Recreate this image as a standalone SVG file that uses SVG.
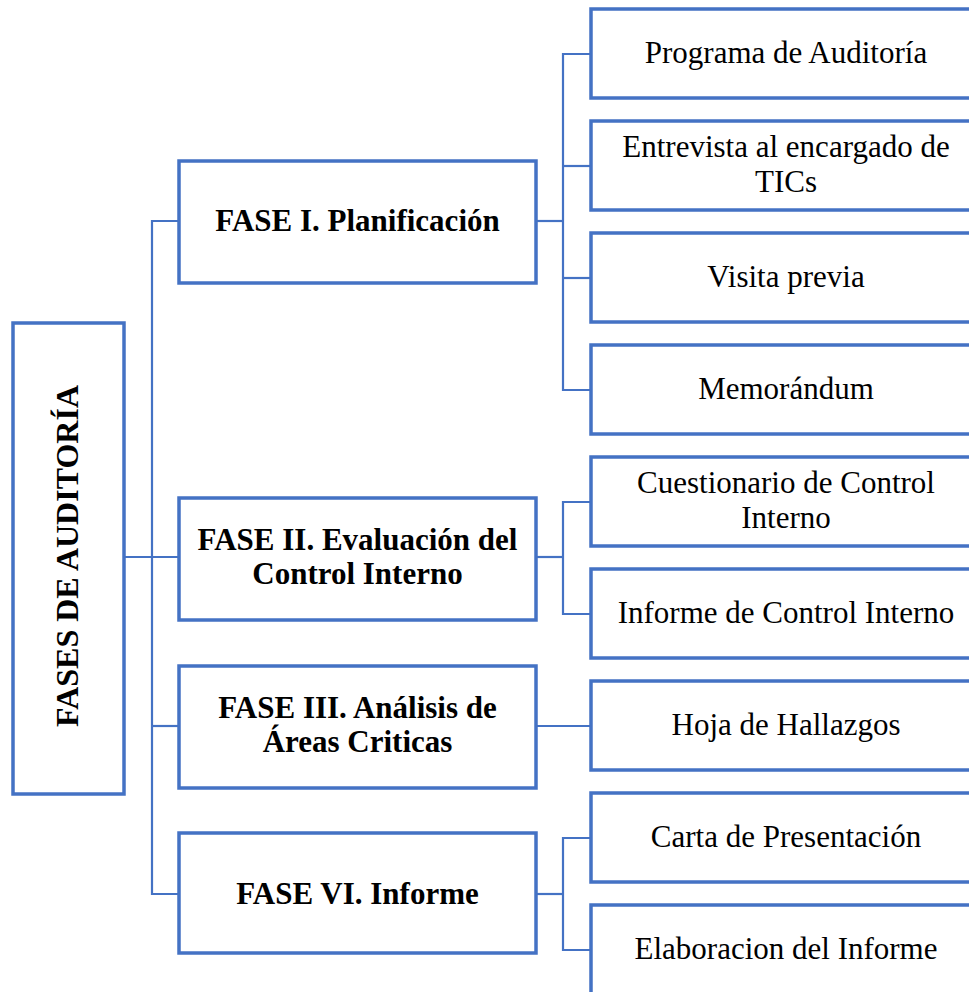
<svg xmlns="http://www.w3.org/2000/svg" width="969" height="992" viewBox="0 0 969 992">
  <style>
    .box { fill: #ffffff; stroke: #4472C4; stroke-width: 3.5; }
    .link { fill: none; stroke: #4472C4; stroke-width: 2.2; }
    .head { font-family: "Liberation Serif", "Times New Roman", serif; font-weight: bold; fill: #000; text-anchor: middle; }
    .item { font-family: "Liberation Serif", "Times New Roman", serif; font-size: 31px; fill: #000; text-anchor: middle; }
  </style>
  <rect width="969" height="992" fill="#ffffff"/>

  <!-- connectors -->
  <g id="connectors">
    <!-- root to phases -->
    <path class="link" d="M124 557 H179"/>
    <path class="link" d="M179 221 H152 V894 H179"/>
    <path class="link" d="M152 726 H179"/>
    <!-- phase I children -->
    <path class="link" d="M536 221 H563"/>
    <path class="link" d="M591 54 H563 V390 H591"/>
    <path class="link" d="M563 166 H591"/>
    <path class="link" d="M563 278 H591"/>
    <!-- phase II children -->
    <path class="link" d="M536 557 H563"/>
    <path class="link" d="M591 502 H563 V614 H591"/>
    <!-- phase III child -->
    <path class="link" d="M536 726 H591"/>
    <!-- phase IV children -->
    <path class="link" d="M536 894 H563"/>
    <path class="link" d="M591 838 H563 V950 H591"/>
  </g>

  <!-- root -->
  <g id="root">
    <rect class="box" x="13" y="323" width="111" height="471"/>
    <text class="head" font-size="32" transform="translate(78 556) rotate(-90)">FASES DE AUDITORÍA</text>
  </g>

  <!-- phases -->
  <g id="phase1">
    <rect class="box" x="179" y="161" width="357" height="122"/>
    <text class="head" font-size="31" x="357.5" y="231">FASE I. Planificación</text>
  </g>
  <g id="phase2">
    <rect class="box" x="179" y="498" width="357" height="122"/>
    <text class="head" font-size="31" x="357.5" y="550">FASE II. Evaluación del</text>
    <text class="head" font-size="31" x="357.5" y="584">Control Interno</text>
  </g>
  <g id="phase3">
    <rect class="box" x="179" y="666" width="357" height="122"/>
    <text class="head" font-size="31" x="357.5" y="718">FASE III. Análisis de</text>
    <text class="head" font-size="31" x="357.5" y="752">Áreas Criticas</text>
  </g>
  <g id="phase4">
    <rect class="box" x="179" y="833" width="357" height="120"/>
    <text class="head" font-size="31" x="357.5" y="904">FASE VI. Informe</text>
  </g>

  <!-- deliverables -->
  <g id="programa">
    <rect class="box" x="591" y="9" width="390" height="89"/>
    <text class="item" x="786" y="63">Programa de Auditoría</text>
  </g>
  <g id="entrevista">
    <rect class="box" x="591" y="121" width="390" height="89"/>
    <text class="item" x="786" y="157">Entrevista al encargado de</text>
    <text class="item" x="786" y="192">TICs</text>
  </g>
  <g id="visita">
    <rect class="box" x="591" y="233" width="390" height="89"/>
    <text class="item" x="786" y="287">Visita previa</text>
  </g>
  <g id="memorandum">
    <rect class="box" x="591" y="345" width="390" height="89"/>
    <text class="item" x="786" y="399">Memorándum</text>
  </g>
  <g id="cuestionario">
    <rect class="box" x="591" y="457" width="390" height="89"/>
    <text class="item" x="786" y="493">Cuestionario de Control</text>
    <text class="item" x="786" y="528">Interno</text>
  </g>
  <g id="informe-ci">
    <rect class="box" x="591" y="569" width="390" height="89"/>
    <text class="item" x="786" y="623">Informe de Control Interno</text>
  </g>
  <g id="hallazgos">
    <rect class="box" x="591" y="681" width="390" height="89"/>
    <text class="item" x="786" y="735">Hoja de Hallazgos</text>
  </g>
  <g id="carta">
    <rect class="box" x="591" y="793" width="390" height="89"/>
    <text class="item" x="786" y="847">Carta de Presentación</text>
  </g>
  <g id="elaboracion">
    <rect class="box" x="591" y="905" width="390" height="100"/>
    <text class="item" x="786" y="959">Elaboracion del Informe</text>
  </g>
</svg>
